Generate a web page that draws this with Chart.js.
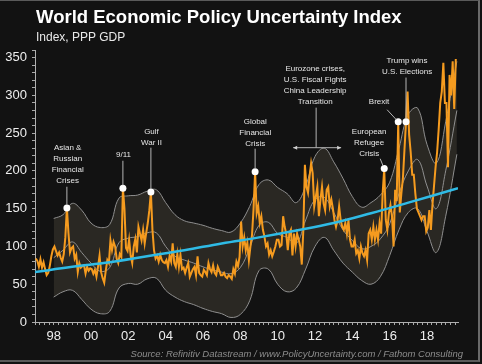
<!DOCTYPE html>
<html lang="en">
<head>
<meta charset="UTF-8">
<title>World Economic Policy Uncertainty Index</title>
<script src="https://cdn.jsdelivr.net/npm/chart.js"></script>
<style>
  html, body { margin: 0; padding: 0; background: #121212; }
  #wrap { position: relative; width: 482px; height: 364px; background: #121212; overflow: hidden;
          font-family: "Liberation Sans", Arial, sans-serif; }
  #c { position: absolute; left: 0; top: 0; }
  .txt { position: absolute; white-space: nowrap; line-height: 1; }
  #title { left: 36px; top: 8px; font-size: 18.5px; font-weight: bold; color: #fff; }
  #sub { left: 36px; top: 31px; font-size: 12px; color: #e8e8e8; }
  #src { right: 19px; top: 349px; font-size: 9.5px; font-style: italic; color: #8c8c8c; }
  #frame { position: absolute; left: 0; top: 0; width: 480px; height: 362px; pointer-events: none;
           border-top: 1px solid #5a5a5a; border-right: 2px solid #6a6a6a; border-bottom: 2px solid #5a5a5a; box-sizing: border-box; }
</style>
</head>
<body>
<div id="wrap">
  <canvas id="c" width="482" height="364"></canvas>
  <div class="txt" id="title">World Economic Policy Uncertainty Index</div>
  <div class="txt" id="sub">Index, PPP GDP</div>
  <div class="txt" id="src">Source: Refinitiv Datastream / www.PolicyUncertainty.com / Fathom Consulting</div>
  <div id="frame"></div>
</div>
<script>
  // monthly index, Jan 1997 .. Jul 2019
  const startYear = 1997;
  const epu = [
    84, 81, 73, 83, 72, 79, 70, 62, 65, 74, 87, 96,          // 1997
    100, 94, 88, 92, 85, 80, 90, 112, 151, 118, 92, 98,      // 1998
    100, 84, 89, 66, 78, 72, 74, 75, 64, 73, 68, 71,         // 1999
    70, 64, 69, 60, 73, 88, 66, 58, 52, 68, 82, 78,          // 2000
    108, 95, 106, 100, 84, 78, 90, 86, 177, 150, 98, 94,     // 2001
    109, 88, 78, 100, 110, 92, 126, 117, 108, 122, 104, 118, // 2002
    131, 148, 172, 122, 95, 84, 88, 80, 89, 82, 79, 78,      // 2003
    82, 73, 87, 80, 104, 78, 73, 90, 73, 89, 70, 72,         // 2004
    65, 72, 78, 60, 65, 70, 73, 62, 87, 65, 62, 60,          // 2005
    69, 66, 62, 78, 70, 66, 75, 65, 62, 73, 68, 62,          // 2006
    62, 65, 60, 58, 62, 60, 57, 70, 64, 80, 74, 86,          // 2007
    133, 100, 112, 95, 105, 82, 100, 115, 150, 199, 144, 153, // 2008
    131, 140, 122, 113, 100, 104, 89, 95, 87, 93, 100, 109,  // 2009
    109, 100, 102, 140, 126, 117, 95, 117, 122, 88, 117, 100, // 2010
    117, 109, 100, 76, 122, 208, 179, 171, 193, 210, 197, 153, // 2011
    166, 179, 140, 162, 179, 157, 148, 175, 179, 153, 162, 150, // 2012
    135, 126, 135, 153, 135, 126, 122, 131, 117, 135, 109, 100, // 2013
    100, 109, 91, 95, 84, 100, 91, 87, 95, 82, 117, 122,     // 2014
    109, 126, 109, 122, 109, 131, 117, 171, 203, 135, 122, 144, // 2015
    155, 140, 100, 175, 160, 265, 145, 170, 190, 228, 265, 305, // 2016
    248, 225, 195, 195, 170, 150, 145, 140, 135, 140, 140, 120, // 2017
    125, 148, 122, 155, 180, 205, 225, 255, 290, 305, 343, 290, // 2018
    290, 205, 327, 300, 345, 282, 348                        // 2019
  ];

  // uncertainty band
  const bandYears = [1998, 1998.5, 1999, 1999.5, 2000, 2000.5, 2001, 2001.5, 2002, 2002.5, 2003, 2003.5,
    2004, 2004.5, 2005, 2005.5, 2006, 2006.5, 2007, 2007.5, 2008, 2008.5, 2009, 2009.5, 2010, 2010.5,
    2011, 2011.5, 2012, 2012.5, 2013, 2013.5, 2014, 2014.5, 2015, 2015.5, 2016, 2016.5, 2017, 2017.5,
    2018, 2018.5, 2019, 2019.6];
  const bandUpper = [137, 142, 157, 148, 131, 125, 129, 164, 167, 168, 173, 175,
    158, 142, 134, 131, 128, 124, 121, 119, 131, 153, 182, 188, 178, 170,
    158, 180, 219, 230, 212, 190, 166, 152, 158, 168, 185, 230, 275, 283,
    235, 210, 265, 345];
  const bandMid = [85, 95, 106, 92, 78, 67, 72, 105, 111, 113, 118, 118,
    100, 87, 82, 78, 73, 69, 66, 64, 72, 98, 128, 132, 117, 112,
    104, 135, 162, 165, 145, 122, 108, 97, 100, 110, 130, 170, 200, 215,
    180, 150, 200, 280];
  const bandLower = [33, 40, 42, 30, 17, 11, 14, 45, 51, 50, 57, 58,
    42, 33, 27, 23, 18, 14, 11, 6, 10, 28, 68, 70, 50, 40,
    45, 70, 100, 112, 95, 78, 66, 55, 50, 60, 88, 122, 145, 150,
    120, 92, 140, 222];

  // long-run trend (blue)
  const trendYears = [1997, 1999, 2001, 2003, 2005, 2007, 2009, 2011, 2013, 2015, 2017, 2019.66];
  const trendValues = [66, 73, 79, 87, 95, 104, 112, 121, 131, 144, 158, 177];

  // event call-outs: month index in epu, label lines, label anchor, leader start
  const notes = [
    { i: 20,  text: ['Asian &', 'Russian', 'Financial', 'Crises'], at: [1998.75, 230.3], from: [null, 179] },
    { i: 56,  text: ['9/11'], at: [2001.74, 221.4], from: [null, 213.4] },
    { i: 74,  text: ['Gulf', 'War II'], at: [2003.24, 251.9], from: [null, 230.7] },
    { i: 141, text: ['Global', 'Financial', 'Crisis'], at: [2008.8, 265.1], from: [null, 229.4] },
    { i: 224, text: ['European', 'Refugee', 'Crisis'], at: [2014.9, 251.9], from: [2015.49, 216.1] },
    { i: 233, text: ['Brexit'], at: [2015.43, 291.7], from: [2015.86, 281] },
    { i: 238, text: ['Trump wins', 'U.S. Elections'], at: [2016.93, 346], from: [null, 323.5] }
  ];
  const euroNote = { text: ['Eurozone crises,', 'U.S. Fiscal Fights', 'China Leadership', 'Transition'],
    at: [2012.01, 335.4], stem: [2012.06, 283.7, 230.7], arrow: [2010.83, 2013.4] };

  const FONT = '"Liberation Sans", Arial, sans-serif';
  const marks = notes.map(n => n.i);

  const xTicks = [];
  for (let q = 0; startYear + q * 0.25 <= 2019.6; q++) xTicks.push(startYear + q * 0.25);
  const yTicks = [];
  for (let v = 0; v <= 360; v += 10) yTicks.push(v);

  const epuPts = epu.map((v, i) => ({ x: startYear + (i + 0.5) / 12, y: v }));
  const band = arr => bandYears.map((t, i) => ({ x: t, y: arr[i] }));
  const trendPts = trendYears.map((t, i) => ({ x: t, y: trendValues[i] }));

  const notePlugin = {
    id: 'notes',
    afterDatasetsDraw(chart) {
      const { ctx, scales: { x, y } } = chart;
      const pts = chart.getDatasetMeta(1).data;
      ctx.save();
      ctx.strokeStyle = '#b5b5b5';
      ctx.lineWidth = 1;
      ctx.fillStyle = '#e6e6e6';
      ctx.font = '8px ' + FONT;
      ctx.textAlign = 'center';
      ctx.textBaseline = 'middle';
      notes.forEach(n => {
        const p = pts[n.i];
        const tx = x.getPixelForValue(n.at[0]);
        const ty = y.getPixelForValue(n.at[1]);
        n.text.forEach((s, k) => ctx.fillText(s, tx, ty + k * 11));
        const fx = n.from[0] === null ? p.x : x.getPixelForValue(n.from[0]);
        const fy = y.getPixelForValue(n.from[1]);
        const dx = p.x - fx, dy = p.y - fy, len = Math.hypot(dx, dy);
        ctx.beginPath();
        ctx.moveTo(fx, fy);
        ctx.lineTo(p.x - dx / len * 3, p.y - dy / len * 3);
        ctx.stroke();
      });
      // eurozone block with double arrow
      const ex = x.getPixelForValue(euroNote.at[0]);
      const ey = y.getPixelForValue(euroNote.at[1]);
      euroNote.text.forEach((s, k) => ctx.fillText(s, ex, ey + k * 11));
      const sx = x.getPixelForValue(euroNote.stem[0]);
      const sy0 = y.getPixelForValue(euroNote.stem[1]);
      const sy1 = y.getPixelForValue(euroNote.stem[2]);
      const ax0 = x.getPixelForValue(euroNote.arrow[0]);
      const ax1 = x.getPixelForValue(euroNote.arrow[1]);
      ctx.beginPath();
      ctx.moveTo(sx, sy0); ctx.lineTo(sx, sy1);
      ctx.moveTo(ax0, sy1); ctx.lineTo(ax1, sy1);
      ctx.stroke();
      ctx.fillStyle = '#d0d0d0';
      ctx.beginPath();
      ctx.moveTo(ax0, sy1); ctx.lineTo(ax0 + 4, sy1 - 2); ctx.lineTo(ax0 + 4, sy1 + 2); ctx.closePath();
      ctx.moveTo(ax1, sy1); ctx.lineTo(ax1 - 4, sy1 - 2); ctx.lineTo(ax1 - 4, sy1 + 2); ctx.closePath();
      ctx.fill();
      ctx.restore();
    }
  };

  new Chart(document.getElementById('c'), {
    type: 'line',
    data: {
      datasets: [
        { label: 'Trend', data: trendPts, order: 0, borderColor: '#2fbbe6', borderWidth: 2.5,
          tension: 0.4, pointRadius: 0, fill: false },
        { label: 'Policy uncertainty', data: epuPts, order: 1, borderColor: '#f59b1f', borderWidth: 2,
          tension: 0, fill: false,
          pointRadius: c => marks.includes(c.dataIndex) ? 3.5 : 0,
          pointBackgroundColor: '#ffffff', pointBorderColor: '#ffffff', pointBorderWidth: 0, pointHoverRadius: 0 },
        { label: 'Mid', data: band(bandMid), order: 2, borderColor: '#8f8f8f', borderWidth: 1,
          tension: 0.4, pointRadius: 0, fill: false },
        { label: 'Lower', data: band(bandLower), order: 3, borderColor: '#8f8f8f', borderWidth: 1,
          tension: 0.4, pointRadius: 0, fill: false },
        { label: 'Upper', data: band(bandUpper), order: 4, borderColor: '#8f8f8f', borderWidth: 1,
          tension: 0.4, pointRadius: 0, fill: { target: 3 }, backgroundColor: '#2a2823' }
      ]
    },
    options: {
      responsive: false,
      animation: false,
      devicePixelRatio: 1,
      events: [],
      layout: { padding: { top: 50, right: 24, bottom: 0, left: 0 } },
      plugins: { legend: { display: false }, tooltip: { enabled: false } },
      scales: {
        x: {
          type: 'linear', min: 1997, max: 2019.66,
          afterFit: s => { s.height = 42; },
          afterBuildTicks: s => { s.ticks = xTicks.map(v => ({ value: v })); },
          ticks: {
            autoSkip: false, maxRotation: 0, padding: 4, color: '#eeeeee', font: { family: FONT, size: 13 },
            callback: v => {
              const r = Math.round(v);
              return (Math.abs(v - r) < 1e-6 && r % 2 === 0) ? String(r % 100).padStart(2, '0') : '';
            }
          },
          grid: { drawOnChartArea: false, tickLength: 3, color: '#a8a8a8' },
          border: { color: '#b0b0b0' }
        },
        y: {
          min: 0, max: 360,
          afterFit: s => { s.width = 35; },
          afterBuildTicks: s => { s.ticks = yTicks.map(v => ({ value: v })); },
          ticks: {
            autoSkip: false, padding: 5, color: '#eeeeee', font: { family: FONT, size: 13 },
            callback: v => v % 50 === 0 ? String(v) : ''
          },
          grid: { drawOnChartArea: false, tickLength: 3, color: '#a8a8a8' },
          border: { color: '#b0b0b0' }
        }
      }
    },
    plugins: [notePlugin]
  });
</script>
</body>
</html>
